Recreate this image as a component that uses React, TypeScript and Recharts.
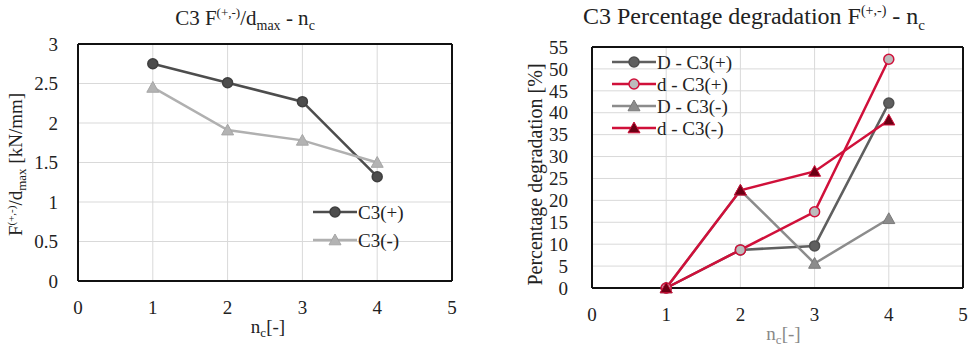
import React from "react";
import { LineChart, Line, XAxis, YAxis, CartesianGrid, Legend, ReferenceLine } from "recharts";

const cycles = [1, 2, 3, 4];
const c3Plus = [2.75, 2.51, 2.27, 1.32];
const c3Minus = [2.45, 1.91, 1.78, 1.5];

const degDPlus = [0, 8.7, 9.6, 42.2];
const degdPlus = [0, 8.7, 17.4, 52.2];
const degDMinus = [0, 22.3, 5.6, 15.8];
const degdMinus = [0, 22.3, 26.6, 38.3];

const xTicks = [0, 1, 2, 3, 4, 5];
const leftTicksY = [0, 0.5, 1, 1.5, 2, 2.5, 3];
const rightTicksY = [0, 5, 10, 15, 20, 25, 30, 35, 40, 45, 50, 55];

const stiffData = cycles.map((n, i) => ({ n, plus: c3Plus[i], minus: c3Minus[i] }));
const degData = cycles.map((n, i) => ({
  n,
  Dp: degDPlus[i],
  dp: degdPlus[i],
  Dm: degDMinus[i],
  dm: degdMinus[i],
}));

const FONT = "Liberation Serif";
const RED = "#d0103a";

type Marker = { kind: "circle" | "triangle"; fill: string; stroke: string };

function drawMarker(m: Marker, cx: number, cy: number, key?: string) {
  if (m.kind === "circle") {
    return <circle key={key} cx={cx} cy={cy} r={5} fill={m.fill} stroke={m.stroke} strokeWidth={1.5} />;
  }
  const s = 6;
  return (
    <path
      key={key}
      d={`M${cx},${cy - s} L${cx + s},${cy + s * 0.8} L${cx - s},${cy + s * 0.8} Z`}
      fill={m.fill}
      stroke={m.stroke}
      strokeWidth={1}
    />
  );
}

const dotFor = (m: Marker) => (p: any) => drawMarker(m, p.cx, p.cy, `${p.dataKey}-${p.index}`);

type Item = { label: string; color: string; marker: Marker };

const legendBox = (items: Item[], rowH: number) => () => (
  <div style={{ fontFamily: FONT, fontSize: 19, color: "#222", lineHeight: 1 }}>
    {items.map((it) => (
      <div key={it.label} style={{ display: "flex", alignItems: "center", height: rowH }}>
        <svg width={44} height={rowH}>
          <line x1={0} x2={44} y1={rowH / 2} y2={rowH / 2} stroke={it.color} strokeWidth={2.5} />
          {drawMarker(it.marker, 22, rowH / 2)}
        </svg>
        <span style={{ marginLeft: 1, fontFamily: FONT }}>{it.label}</span>
      </div>
    ))}
  </div>
);

const YLabelLeft = (props: any) => {
  const vb = props.viewBox;
  const x = 22;
  const y = vb.y + vb.height / 2 + 2;
  return (
    <text x={x} y={y} transform={`rotate(-90 ${x} ${y})`} textAnchor="middle" fontFamily={FONT} fontSize={19} fill="#222">
      <tspan>F</tspan>
      <tspan dy={-7} fontSize={11}>(+,-)</tspan>
      <tspan dy={7}>/d</tspan>
      <tspan dy={4} fontSize={13}>max</tspan>
      <tspan dy={-4}> [kN/mm]</tspan>
    </text>
  );
};

const YLabelRight = (props: any) => {
  const vb = props.viewBox;
  const x = 52;
  const y = vb.y + vb.height / 2 + 7;
  return (
    <text x={x} y={y} transform={`rotate(-90 ${x} ${y})`} textAnchor="middle" fontFamily={FONT} fontSize={20} fill="#222">
      Percentage degradation [%]
    </text>
  );
};

const XLabel = (color: string, dx: number, dy: number) => (props: any) => {
  const vb = props.viewBox;
  const x = vb.x + vb.width / 2 + dx;
  const y = vb.y + dy;
  return (
    <text x={x} y={y} textAnchor="middle" fontFamily={FONT} fontSize={19} fill={color}>
      <tspan>n</tspan>
      <tspan dy={4} fontSize={13}>c</tspan>
      <tspan dy={-4}>[-]</tspan>
    </text>
  );
};

const tickStyle = { fontSize: 19, fill: "#222", fontFamily: FONT };
const frame = { stroke: "#111", strokeWidth: 2 };

const plusM: Marker = { kind: "circle", fill: "#4d4d4d", stroke: "#3f3f3f" };
const minusM: Marker = { kind: "triangle", fill: "#b3b3b3", stroke: "#a6a6a6" };
const DpM: Marker = { kind: "circle", fill: "#5f5f5f", stroke: "#4f4f4f" };
const dpM: Marker = { kind: "circle", fill: "#bcbcbc", stroke: RED };
const DmM: Marker = { kind: "triangle", fill: "#8c8c8c", stroke: "#7a7a7a" };
const dmM: Marker = { kind: "triangle", fill: "#6b0014", stroke: RED };

export default function App() {
  return (
    <div style={{ position: "absolute", left: 0, top: 0, width: 971, height: 346, background: "#fff", fontFamily: FONT }}>
      <style>{`.recharts-wrapper, .recharts-wrapper text, .recharts-legend-wrapper { font-family: "Liberation Serif"; }`}</style>
      <div style={{ position: "absolute", left: 0, top: 5, width: 490, textAlign: "center", fontSize: 21, color: "#222" }}>
        C3 F<sup style={{ fontSize: 13 }}>(+,-)</sup>/d<sub style={{ fontSize: 14 }}>max</sub> - n<sub style={{ fontSize: 14 }}>c</sub>
      </div>
      <div style={{ position: "absolute", left: 490, top: 3, width: 528, textAlign: "center", fontSize: 24, color: "#222" }}>
        C3 Percentage degradation F<sup style={{ fontSize: 14 }}>(+,-)</sup> - n<sub style={{ fontSize: 15 }}>c</sub>
      </div>

      <div style={{ position: "absolute", left: 0, top: 0 }}>
        <LineChart width={480} height={346} data={stiffData} margin={{ top: 44, right: 28, bottom: 25, left: 0 }}>
          <CartesianGrid stroke="#d9d9d9" strokeWidth={1} />
          <XAxis
            dataKey="n"
            type="number"
            domain={[0, 5]}
            ticks={xTicks}
            height={40}
            tickLine={false}
            axisLine={frame}
            tick={tickStyle}
            tickMargin={14}
            label={{ content: XLabel("#222", 3, 52) }}
          />
          <YAxis
            type="number"
            domain={[0, 3]}
            ticks={leftTicksY}
            width={78}
            tickLine={false}
            axisLine={frame}
            tick={tickStyle}
            tickMargin={14}
            label={{ content: YLabelLeft }}
          />
          <ReferenceLine y={3} {...frame} />
          <ReferenceLine x={5} {...frame} />
          <Line dataKey="plus" name="C3(+)" stroke="#4d4d4d" strokeWidth={2.5} dot={dotFor(plusM)} isAnimationActive={false} />
          <Line dataKey="minus" name="C3(-)" stroke="#b0b0b0" strokeWidth={2.5} dot={dotFor(minusM)} isAnimationActive={false} />
          <Legend
            layout="vertical"
            align="center"
            verticalAlign="middle"
            content={legendBox(
              [
                { label: "C3(+)", color: "#4d4d4d", marker: plusM },
                { label: "C3(-)", color: "#b0b0b0", marker: minusM },
              ],
              28
            )}
            wrapperStyle={{ position: "absolute", left: 313, top: 198, width: 120 }}
          />
        </LineChart>
      </div>

      <div style={{ position: "absolute", left: 490, top: 0 }}>
        <LineChart width={481} height={346} data={degData} margin={{ top: 47, right: 8, bottom: 18, left: 0 }}>
          <CartesianGrid stroke="#d9d9d9" strokeWidth={1} />
          <XAxis
            dataKey="n"
            type="number"
            domain={[0, 5]}
            ticks={xTicks}
            height={40}
            tickLine={false}
            axisLine={frame}
            tick={tickStyle}
            tickMargin={14}
            label={{ content: XLabel("#888", 6, 52) }}
          />
          <YAxis
            type="number"
            domain={[0, 55]}
            ticks={rightTicksY}
            width={102}
            tickLine={false}
            axisLine={frame}
            tick={tickStyle}
            tickMargin={18}
            interval={0}
            label={{ content: YLabelRight }}
          />
          <ReferenceLine y={55} {...frame} />
          <ReferenceLine x={5} {...frame} />
          <Line dataKey="Dp" name="D - C3(+)" stroke="#5f5f5f" strokeWidth={2.5} dot={dotFor(DpM)} isAnimationActive={false} />
          <Line dataKey="Dm" name="D - C3(-)" stroke="#8c8c8c" strokeWidth={2.5} dot={dotFor(DmM)} isAnimationActive={false} />
          <Line dataKey="dp" name="d - C3(+)" stroke={RED} strokeWidth={2.5} dot={dotFor(dpM)} isAnimationActive={false} />
          <Line dataKey="dm" name="d - C3(-)" stroke={RED} strokeWidth={2.5} dot={dotFor(dmM)} isAnimationActive={false} />
          <Legend
            layout="vertical"
            align="center"
            verticalAlign="middle"
            content={legendBox(
              [
                { label: "D - C3(+)", color: "#5f5f5f", marker: DpM },
                { label: "d - C3(+)", color: RED, marker: dpM },
                { label: "D - C3(-)", color: "#8c8c8c", marker: DmM },
                { label: "d - C3(-)", color: RED, marker: dmM },
              ],
              22
            )}
            wrapperStyle={{ position: "absolute", left: 122, top: 51, width: 140 }}
          />
        </LineChart>
      </div>
    </div>
  );
}
